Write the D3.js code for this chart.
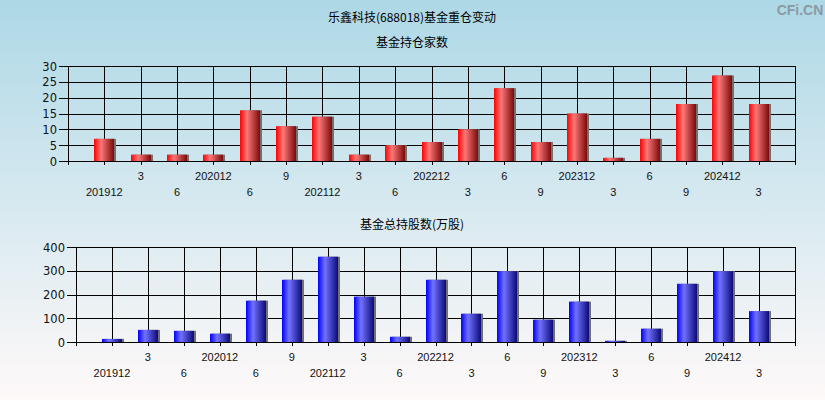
<!DOCTYPE html>
<html><head><meta charset="utf-8">
<script src="https://cdn.jsdelivr.net/npm/d3@7"></script>
<style>body{margin:0;padding:0;overflow:hidden}svg{display:block}</style>
</head><body>
<script>
const categories = ["201912","3","6","202012","6","9","202112","3","6","202212","3","6","9","202312","3","6","9","202412","3"];
const fundCount = [7,2,2,2,16,11,14,2,5,6,10,23,6,15,1,7,18,27,18];
const fundShares = [13,51,47,35,174,262,359,191,22,262,119,298,94,170,5,56,245,298,130];
const countTicks = [0,5,10,15,20,25,30];
const shareTicks = [0,100,200,300,400];

const W = 825, H = 400;
const svg = d3.select("body").append("svg").attr("width", W).attr("height", H);
const defs = svg.append("defs");
const bg = defs.append("linearGradient").attr("id","bg").attr("x1",0).attr("y1",0).attr("x2",0).attr("y2",1);
bg.append("stop").attr("offset","0%").attr("stop-color","#add8e6");
bg.append("stop").attr("offset","100%").attr("stop-color","#fff9f9");
function barGrad(id, c0, c1, c2){
  const g = defs.append("linearGradient").attr("id",id).attr("x1",0).attr("y1",0).attr("x2",1).attr("y2",0);
  g.append("stop").attr("offset","0%").attr("stop-color",c0);
  g.append("stop").attr("offset","35%").attr("stop-color",c1);
  g.append("stop").attr("offset","100%").attr("stop-color",c2);
}
barGrad("red","#ff0000","#ff7878","#7a0a0a");
barGrad("blue","#0000ff","#7272ff","#0a0a78");

svg.append("rect").attr("width",W).attr("height",H).attr("fill","url(#bg)");

const cjk = "'Noto Sans CJK SC', sans-serif";
const latin = "'Liberation Sans', Arial, sans-serif";
const wide = "'DejaVu Sans', Verdana, sans-serif";

svg.append("text").attr("x",412).attr("y",22).attr("text-anchor","middle")
  .attr("font-family",cjk).attr("font-size",12).attr("fill","#000").text("乐鑫科技(688018)基金重仓变动");
svg.append("text").attr("x",800).attr("y",15).attr("text-anchor","middle")
  .attr("font-family",latin).attr("font-size",14).attr("font-weight","bold").attr("fill","#8a9aa2").text("CFi.CN");

function panel(opt){
  const {title, titleY, x0, x1, y0, y1, values, ticks, grad, labelRowY} = opt;
  const g = svg.append("g");
  g.append("text").attr("x",412).attr("y",titleY).attr("text-anchor","middle")
    .attr("font-family",cjk).attr("font-size",12).attr("fill","#000").text(title);
  const x = d3.scaleLinear().domain([0, categories.length + 1]).range([x0, x1]);
  const y = d3.scaleLinear().domain([ticks[0], ticks[ticks.length-1]]).range([y1, y0]);
  const slots = d3.range(0, categories.length + 2);
  g.selectAll(".hg").data(ticks).join("line")
    .attr("x1", x0 - 9).attr("x2", x1).attr("y1", d => Math.round(y(d)) + 0.5).attr("y2", d => Math.round(y(d)) + 0.5)
    .attr("stroke","#000").attr("stroke-width",1);
  g.selectAll(".vg").data(slots).join("line")
    .attr("x1", d => Math.round(x(d)) + 0.5).attr("x2", d => Math.round(x(d)) + 0.5)
    .attr("y1", y0).attr("y2", y1 + 4)
    .attr("stroke","#000").attr("stroke-width",1);
  g.selectAll(".yl").data(ticks).join("text")
    .attr("x", x0 - 11).attr("y", d => y(d) + 4.5).attr("text-anchor","end")
    .attr("font-family",wide).attr("font-size",11.5).attr("fill","#111").text(d => d);
  const bw = 20;
  g.selectAll(".sh").data(values).join("rect")
    .attr("x", (d,i) => Math.round(x(i+1)) - bw/2 + 2).attr("width", bw)
    .attr("y", d => y(d)).attr("height", d => y(0) - y(d)).attr("fill","#707070");
  g.selectAll(".bar").data(values).join("rect")
    .attr("x", (d,i) => Math.round(x(i+1)) - bw/2).attr("width", bw)
    .attr("y", d => y(d)).attr("height", d => y(0) - y(d)).attr("fill", `url(#${grad})`);
  g.append("line").attr("x1", x0 - 9).attr("x2", x1).attr("y1", Math.round(y(0)) + 0.5).attr("y2", Math.round(y(0)) + 0.5)
    .attr("stroke","#000");
  g.selectAll(".xl").data(categories).join("text")
    .attr("x", (d,i) => x(i+1)).attr("y", (d,i) => i % 2 === 0 ? labelRowY[1] : labelRowY[0])
    .attr("text-anchor","middle").attr("font-family",latin).attr("font-size",11).attr("fill","#111").text(d => d);
}

panel({title:"基金持仓家数", titleY:47, x0:68, x1:795, y0:66, y1:161, values:fundCount, ticks:countTicks, grad:"red", labelRowY:[180,196]});
panel({title:"基金总持股数(万股)", titleY:229, x0:76, x1:795, y0:247, y1:342, values:fundShares, ticks:shareTicks, grad:"blue", labelRowY:[361,377]});
</script>
</body></html>
